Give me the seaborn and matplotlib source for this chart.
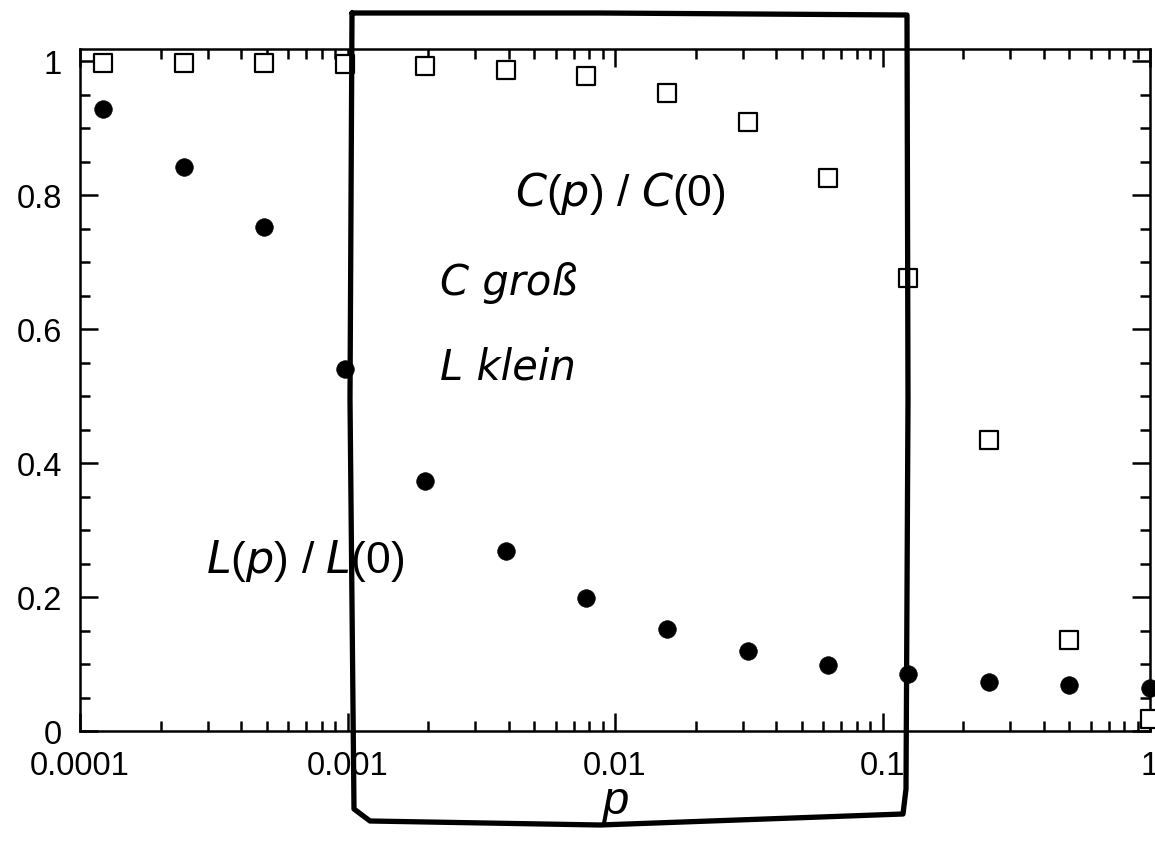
import matplotlib
matplotlib.use("Agg")
import matplotlib.pyplot as plt
import seaborn as sns
import pandas as pd
import numpy as np
from matplotlib.lines import Line2D
from matplotlib.ticker import FixedLocator, LogLocator, NullFormatter, MultipleLocator

# ---- data ----
p_values = [0.000122, 0.000244, 0.000488, 0.000977, 0.00195, 0.00391, 0.00781,
            0.0156, 0.0313, 0.0625, 0.125, 0.25, 0.5, 1.0]
L_ratio = [0.928, 0.842, 0.752, 0.540, 0.373, 0.269, 0.198,
           0.152, 0.119, 0.098, 0.085, 0.073, 0.069, 0.064]
C_ratio = [0.997, 0.997, 0.997, 0.996, 0.993, 0.987, 0.977,
           0.953, 0.909, 0.825, 0.676, 0.434, 0.136, 0.018]
x_ticks = [0.0001, 0.001, 0.01, 0.1, 1]
x_ticklabels = ["0.0001", "0.001", "0.01", "0.1", "1"]
y_ticks = [0, 0.2, 0.4, 0.6, 0.8, 1.0]
y_ticklabels = ["0", "0.2", "0.4", "0.6", "0.8", "1"]

sns.set_theme(style="white")
plt.rcParams['font.family'] = ['Liberation Sans', 'DejaVu Sans']
plt.rcParams['text.color'] = 'black'
plt.rcParams['axes.labelcolor'] = 'black'
plt.rcParams['xtick.color'] = 'black'
plt.rcParams['ytick.color'] = 'black'

df = pd.DataFrame({"p": p_values, "L": L_ratio, "C": C_ratio})

W, H = 1155, 854
fig = plt.figure(figsize=(W / 100, H / 100), dpi=100)
ax = fig.add_axes([80 / W, 1 - 732 / H, (1150 - 80) / W, (732 - 50) / H])

sns.scatterplot(data=df, x="p", y="C", marker="s", s=150, facecolor="white",
                edgecolor="black", linewidth=1.6, ax=ax, clip_on=False, zorder=3)
sns.scatterplot(data=df, x="p", y="L", marker="o", s=160, color="black",
                edgecolor="black", linewidth=0.5, ax=ax, clip_on=False, zorder=3)

ax.set_xscale("log")
ax.set_xlim(1e-4, 1)
ax.set_ylim(0, 1.018)

ax.xaxis.set_major_locator(FixedLocator(x_ticks))
ax.set_xticklabels(x_ticklabels)
ax.xaxis.set_minor_locator(LogLocator(base=10, subs=np.arange(2, 10), numticks=20))
ax.xaxis.set_minor_formatter(NullFormatter())
ax.yaxis.set_major_locator(FixedLocator(y_ticks))
ax.set_yticklabels(y_ticklabels)
ax.yaxis.set_minor_locator(MultipleLocator(0.05))

ax.tick_params(which="both", direction="in", top=True, right=True,
               bottom=True, left=True, color="black", width=1.8)
ax.tick_params(which="major", length=13, labelsize=23.5, labelcolor="black")
ax.tick_params(axis="x", which="major", pad=14)
ax.tick_params(axis="y", which="major", pad=13)
ax.tick_params(which="minor", length=7.5)
for s in ax.spines.values():
    s.set_color("black")
    s.set_linewidth(1.8)

ax.set_xlabel("p", fontsize=34, style="italic", labelpad=-2, color="black")
ax.set_ylabel("")

ax.text(0.505, 0.79, r"$\it{C}$($\it{p}$) / $\it{C}$(0)", transform=ax.transAxes,
        fontsize=32, ha="center", va="center", color="black")
ax.text(0.21, 0.25, r"$\it{L}$($\it{p}$) / $\it{L}$(0)", transform=ax.transAxes,
        fontsize=32, ha="center", va="center", color="black")

# handwritten-style notes
fig.text(440 / W, 1 - 283 / H, "C groß", fontsize=30, style="italic",
         family=["DejaVu Sans"], ha="left", va="center", color="black")
fig.text(440 / W, 1 - 368 / H, "L klein", fontsize=30, style="italic",
         family=["DejaVu Sans"], ha="left", va="center", color="black")

# hand-drawn rectangle
rx = [352, 600, 907, 908, 906, 903, 600, 370, 354, 350, 352]
ry = [14, 14, 16, 400, 790, 815, 826, 822, 810, 400, 14]
fig.add_artist(Line2D([x / W for x in rx], [1 - y / H for y in ry],
                      transform=fig.transFigure, color="black", lw=3.8,
                      solid_joinstyle="round", solid_capstyle="round"))

fig.savefig("out.png", dpi=100, facecolor="white")
